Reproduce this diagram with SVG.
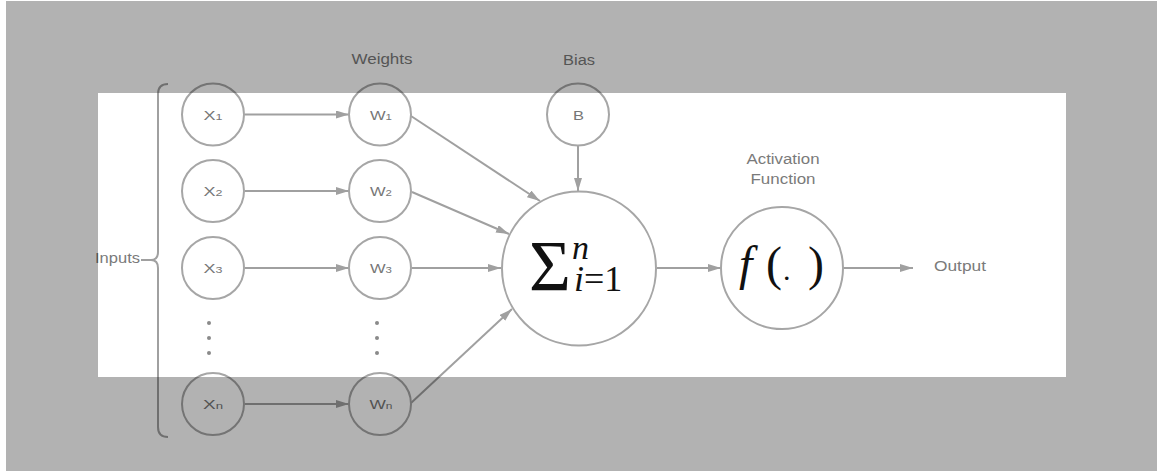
<svg xmlns="http://www.w3.org/2000/svg" width="1157" height="471" viewBox="0 0 1157 471">
  <style>
    .node { fill: #ffffff; stroke: #a6a6a6; stroke-width: 2; }
    .edge { fill: none; stroke: #a0a0a0; stroke-width: 2; }
    .lbl { font-family: "Liberation Sans", Arial, sans-serif; font-size: 14px; fill: #7a7a7a; text-anchor: middle; }
    .in { font-family: "Liberation Sans", Arial, sans-serif; font-size: 13px; fill: #767676; text-anchor: middle; }
    .sub { font-size: 9px; }
    .math { font-family: "Liberation Serif", "Times New Roman", serif; fill: #111111; }
    .dot { fill: #8a8a8a; }
  </style>
  <defs>
    <marker id="arrow" markerUnits="userSpaceOnUse" markerWidth="13" markerHeight="8" refX="13" refY="4" orient="auto">
      <path d="M0,0 L13,4 L0,8 Z" fill="#a0a0a0"/>
    </marker>
  </defs>

  <rect x="0" y="0" width="1157" height="471" fill="#ffffff"/>

  <!-- connectors -->
  <g id="connectors">
    <line class="edge" x1="245" y1="114.5" x2="349" y2="114.5" marker-end="url(#arrow)"/>
    <line class="edge" x1="245" y1="191" x2="349" y2="191" marker-end="url(#arrow)"/>
    <line class="edge" x1="245" y1="268" x2="349" y2="268" marker-end="url(#arrow)"/>
    <line class="edge" x1="245" y1="404" x2="349" y2="404" marker-end="url(#arrow)"/>
    <line class="edge" x1="411" y1="116" x2="540" y2="201" marker-end="url(#arrow)"/>
    <line class="edge" x1="412" y1="192" x2="509" y2="234" marker-end="url(#arrow)"/>
    <line class="edge" x1="412" y1="268" x2="501" y2="268" marker-end="url(#arrow)"/>
    <line class="edge" x1="411" y1="403" x2="512" y2="309" marker-end="url(#arrow)"/>
    <line class="edge" x1="578" y1="146" x2="578" y2="191" marker-end="url(#arrow)"/>
    <line class="edge" x1="657" y1="268" x2="721" y2="268" marker-end="url(#arrow)"/>
    <line class="edge" x1="843" y1="268" x2="913" y2="268" marker-end="url(#arrow)"/>
    <!-- input brace -->
    <path class="edge" stroke="#9a9a9a" d="M168,84 Q158,84 158,94 L158,252 Q158,260 151,260 Q158,260 158,268 L158,427 Q158,437 168,437"/>
    <line class="edge" stroke="#9a9a9a" x1="141" y1="260" x2="152" y2="260"/>
  </g>

  <!-- labels -->
  <g id="labels">
    <text class="lbl" x="382" y="64" textLength="61" lengthAdjust="spacingAndGlyphs">Weights</text>
    <text class="lbl" x="579" y="65" textLength="32" lengthAdjust="spacingAndGlyphs">Bias</text>
    <text class="lbl" x="783" y="164" textLength="73" lengthAdjust="spacingAndGlyphs">Activation</text>
    <text class="lbl" x="783" y="184" textLength="65" lengthAdjust="spacingAndGlyphs">Function</text>
    <text class="lbl" x="117.5" y="263" textLength="45" lengthAdjust="spacingAndGlyphs">Inputs</text>
    <text class="lbl" x="960" y="271" textLength="52" lengthAdjust="spacingAndGlyphs">Output</text>
  </g>

  <!-- input nodes -->
  <g id="x1"><circle class="node" cx="213" cy="114.5" r="31"/><text class="in" x="213" y="119.5" textLength="19" lengthAdjust="spacingAndGlyphs">X<tspan class="sub">1</tspan></text></g>
  <g id="x2"><circle class="node" cx="213" cy="191" r="31"/><text class="in" x="213" y="196" textLength="19" lengthAdjust="spacingAndGlyphs">X<tspan class="sub">2</tspan></text></g>
  <g id="x3"><circle class="node" cx="213" cy="268" r="31"/><text class="in" x="213" y="273" textLength="19" lengthAdjust="spacingAndGlyphs">X<tspan class="sub">3</tspan></text></g>
  <g id="xn"><circle class="node" cx="213" cy="404" r="31"/><text class="in" x="213" y="409" textLength="20" lengthAdjust="spacingAndGlyphs">X<tspan class="sub">n</tspan></text></g>

  <!-- weight nodes -->
  <g id="w1"><circle class="node" cx="380" cy="114.5" r="31"/><text class="in" x="381" y="119.5" textLength="22" lengthAdjust="spacingAndGlyphs">W<tspan class="sub">1</tspan></text></g>
  <g id="w2"><circle class="node" cx="380" cy="191" r="31"/><text class="in" x="381" y="196" textLength="22" lengthAdjust="spacingAndGlyphs">W<tspan class="sub">2</tspan></text></g>
  <g id="w3"><circle class="node" cx="380" cy="268" r="31"/><text class="in" x="381" y="273" textLength="22" lengthAdjust="spacingAndGlyphs">W<tspan class="sub">3</tspan></text></g>
  <g id="wn"><circle class="node" cx="380" cy="404" r="31"/><text class="in" x="381" y="409" textLength="23" lengthAdjust="spacingAndGlyphs">W<tspan class="sub">n</tspan></text></g>

  <!-- ellipsis dots -->
  <g id="dots">
    <circle class="dot" cx="209" cy="323" r="2"/>
    <circle class="dot" cx="209" cy="338" r="2"/>
    <circle class="dot" cx="209" cy="353" r="2"/>
    <circle class="dot" cx="377" cy="323" r="2"/>
    <circle class="dot" cx="377" cy="338" r="2"/>
    <circle class="dot" cx="377" cy="353" r="2"/>
  </g>

  <!-- bias -->
  <g id="bias"><circle class="node" cx="578" cy="114.5" r="31"/><text class="in" x="578.5" y="119.5" textLength="11" lengthAdjust="spacingAndGlyphs">B</text></g>

  <!-- summation -->
  <g id="sum">
    <circle class="node" cx="579" cy="268.5" r="77"/>
    <text class="math" x="529" y="290" font-size="72">Σ</text>
    <text class="math" x="572" y="259" font-size="34" font-style="italic">n</text>
    <text class="math" x="574" y="291" font-size="36"><tspan font-style="italic">i</tspan>=1</text>
  </g>

  <!-- activation -->
  <g id="activation">
    <circle class="node" cx="782" cy="268" r="61"/>
    <text class="math" x="739" y="280" font-size="48"><tspan font-style="italic">f</tspan><tspan x="766">(</tspan><tspan x="783" font-size="30">.</tspan><tspan x="808">)</tspan></text>
  </g>

  <!-- dimmed surround -->
  <path fill="#000000" fill-opacity="0.3" fill-rule="evenodd" d="M6,1 H1157 V471 H6 Z M98,93 V377 H1066 V93 Z"/>
</svg>
